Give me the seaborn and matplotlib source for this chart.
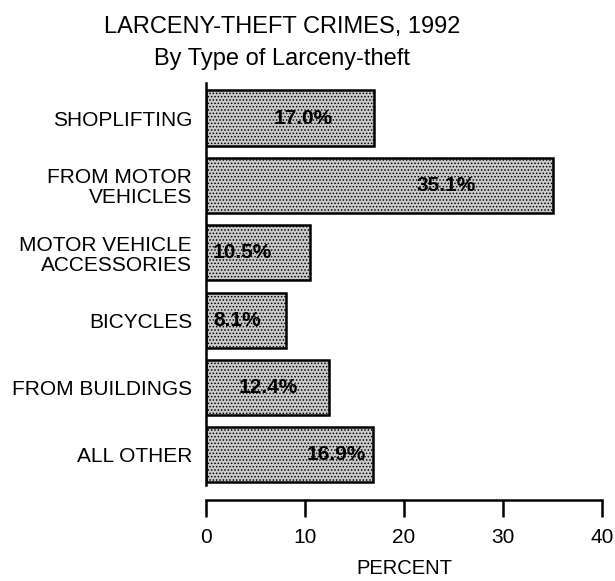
import matplotlib
matplotlib.use("Agg")
import matplotlib.pyplot as plt
import seaborn as sns
import pandas as pd

categories = ["SHOPLIFTING", "FROM MOTOR\nVEHICLES", "MOTOR VEHICLE\nACCESSORIES",
              "BICYCLES", "FROM BUILDINGS", "ALL OTHER"]
percent = [17.0, 35.1, 10.5, 8.1, 12.4, 16.9]
value_labels = ["17.0%", "35.1%", "10.5%", "8.1%", "12.4%", "16.9%"]
x_ticks = [0, 10, 20, 30, 40]
title_line1 = "LARCENY-THEFT CRIMES, 1992"
title_line2 = "By Type of Larceny-theft"
x_label = "PERCENT"

# layout: horizontal position (data units) of the in-bar labels
label_x = [9.8, 24.3, 3.7, 3.2, 6.3, 13.2]

sns.set_theme(style="white")
plt.rcParams["font.family"] = ["Liberation Sans", "DejaVu Sans"]
plt.rcParams["text.color"] = "black"
plt.rcParams["hatch.linewidth"] = 0.7
plt.rcParams["hatch.color"] = "#6a6a6a"

df = pd.DataFrame({"category": categories, "percent": percent})

fig = plt.figure(figsize=(6.15, 5.81), dpi=100)
ax = fig.add_axes([206 / 615, 1 - 500 / 581, (602 - 206) / 615, (500 - 83) / 581])

sns.barplot(data=df, x="percent", y="category", orient="h", ax=ax,
            color="#c8c8c8", width=0.82, edgecolor="black", linewidth=1.8,
            saturation=1)
for p in ax.patches:
    p.set_hatch(".....")
    p.set_facecolor("#cbcbcb")
    p.set_edgecolor("black")

for i, (lx, lab) in enumerate(zip(label_x, value_labels)):
    ax.text(lx, i, lab, ha="center", va="center", fontsize=15,
            fontweight="bold", color="black")

ax.set_xlim(0, 40)
ax.set_ylim(5.67, -0.52)
ax.set_xticks(x_ticks)
ax.set_xticklabels([str(t) for t in x_ticks])
ax.set_xlabel(x_label, fontsize=14.5, labelpad=9, color="black")
ax.set_ylabel("")

for s in ["top", "right"]:
    ax.spines[s].set_visible(False)
ax.spines["left"].set_bounds(-0.52, 5.45)
ax.spines["left"].set_linewidth(1.8)
ax.spines["left"].set_color("black")
ax.spines["bottom"].set_linewidth(1.8)
ax.spines["bottom"].set_color("black")

ax.tick_params(axis="x", direction="out", length=12, width=1.8, pad=8,
               labelsize=15, colors="black", bottom=True)
ax.tick_params(axis="y", length=0, pad=10, labelsize=15, colors="black")
for t in ax.get_yticklabels():
    t.set_linespacing(1.05)
    t.set_horizontalalignment("right")

fig.text(282 / 615, 1 - 27 / 581, title_line1, ha="center", va="center",
         fontsize=17, color="black")
fig.text(282 / 615, 1 - 59 / 581, title_line2, ha="center", va="center",
         fontsize=17, color="black")

fig.savefig("out.png", dpi=100, facecolor="white")
